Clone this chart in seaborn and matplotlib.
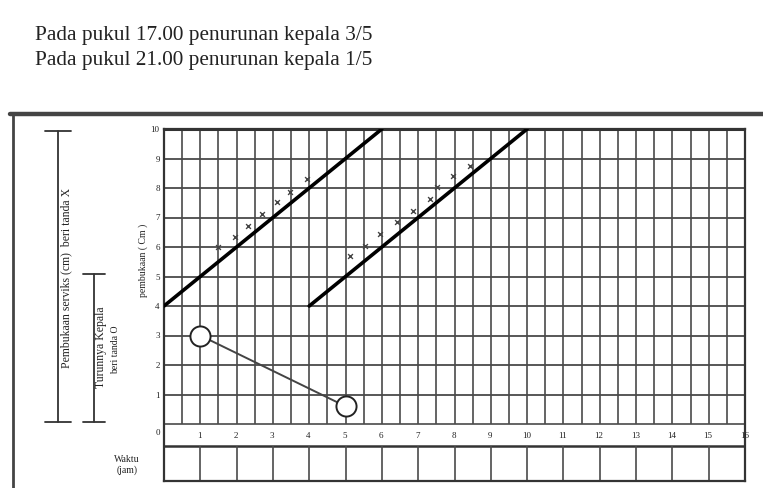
import matplotlib
matplotlib.use("Agg")
import matplotlib.pyplot as plt
from matplotlib.lines import Line2D
import numpy as np
import pandas as pd
import seaborn as sns

# ---- data ----
title_lines = ["Pada pukul 17.00 penurunan kepala 3/5",
               "Pada pukul 21.00 penurunan kepala 1/5"]
alert_hours = [0, 6]
alert_cm = [4, 10]
action_hours = [4, 10]
action_cm = [4, 10]
dil1_hours = [1.50, 1.96, 2.32, 2.69, 3.10, 3.47, 3.93]
dil1_cm = [5.99, 6.33, 6.72, 7.12, 7.52, 7.85, 8.31]
dil2_hours = [5.12, 5.54, 5.95, 6.41, 6.87, 7.33, 7.51, 7.97, 8.43]
dil2_cm = [5.71, 6.04, 6.44, 6.84, 7.23, 7.63, 8.02, 8.42, 8.76]
descent_hours = [1, 5]
descent_val = [3, 0.6]
y_labels = ["0", "1", "2", "3", "4", "5", "6", "7", "8", "9", "10"]
hour_labels = ["1", "2", "3", "4", "5", "6", "7", "8", "9", "10",
               "11", "12", "13", "14", "15", "16"]

sns.set_theme(style="white")
plt.rcParams['font.family'] = ['Liberation Serif', 'DejaVu Serif']

W, H = 763, 489
fig = plt.figure(figsize=(W / 100, H / 100), dpi=100)
fig.patch.set_facecolor("white")

def fx(px):
    return px / W

def fy(py):
    return 1 - py / H

# axes covering grid + bottom time rows
left, right, top, bottom = 164, 745, 130, 482
ax = fig.add_axes([fx(left), fy(bottom), fx(right - left), (bottom - top) / H])
ybot = -(bottom - 425) / 29.5
ax.set_xlim(0, 16)
ax.set_ylim(ybot, 10)
ax.set_xticks([])
ax.set_yticks([])
for s in ax.spines.values():
    s.set_color("#333333")
    s.set_linewidth(1.6)
    s.set_visible(True)

gcol = "#4a4a4a"
# grid: half-hour verticals, 1 cm horizontals
ax.vlines(np.arange(0.5, 16, 0.5), 0, 10, color=gcol, lw=1.2, zorder=1)
ax.hlines(np.arange(1, 10), 0, 16, color=gcol, lw=1.3, zorder=1)
ax.hlines([10], 0, 16, color="#333333", lw=2.2, zorder=1)
ax.hlines([0], 0, 16, color=gcol, lw=1.2, zorder=1)
strip_low = -0.75
ax.hlines([strip_low], 0, 16, color="#333333", lw=1.8, zorder=1)
ax.vlines(np.arange(1, 16), ybot, strip_low, color=gcol, lw=1.2, zorder=1)

# alert / action lines
df_lines = pd.DataFrame({
    "jam": alert_hours + action_hours,
    "cm": alert_cm + action_cm,
    "garis": ["waspada"] * 2 + ["bertindak"] * 2,
})
sns.lineplot(data=df_lines, x="jam", y="cm", units="garis", estimator=None,
             color="black", lw=2.6, ax=ax, legend=False, zorder=3)

# dilation marks (x)
df_dil = pd.DataFrame({"jam": dil1_hours + dil2_hours, "cm": dil1_cm + dil2_cm})
sns.scatterplot(data=df_dil, x="jam", y="cm", marker="x", s=12, color="#444444",
                linewidth=1.0, ax=ax, legend=False, zorder=4)

# head descent (O)
df_des = pd.DataFrame({"jam": descent_hours, "turun": descent_val})
sns.lineplot(data=df_des, x="jam", y="turun", color="#444444", lw=1.4, ax=ax,
             legend=False, zorder=3)
sns.scatterplot(data=df_des, x="jam", y="turun", marker="o", s=210,
                facecolor="white", edgecolor="#222222", linewidth=1.4, ax=ax,
                legend=False, zorder=5)
ax.set_xlabel("")
ax.set_ylabel("")

# y labels (cm)
for i, lab in enumerate(y_labels):
    yy = i if i > 0 else -0.27
    ax.text(-0.12, yy, lab, ha="right", va="center", fontsize=6.5, color="#222222")
# hour labels
for i, lab in enumerate(hour_labels):
    ax.text(i + 0.98, -0.37, lab, ha="center", va="center", fontsize=6.5, color="#222222")

# titles
fig.text(fx(35), fy(40), title_lines[0], fontsize=15.3, color="#222222", va="baseline")
fig.text(fx(35), fy(65), title_lines[1], fontsize=15.3, color="#222222", va="baseline")

# outer frame lines
fig.add_artist(Line2D([fx(10), fx(763)], [fy(115), fy(115)], color="#444444", lw=3.2))
fig.add_artist(Line2D([fx(13), fx(13)], [fy(115), fy(489)], color="#444444", lw=2.0))

# brackets
def bracket(x, y0, y1, cx0, cx1):
    fig.add_artist(Line2D([fx(x), fx(x)], [fy(y0), fy(y1)], color="#333333", lw=1.3))
    fig.add_artist(Line2D([fx(cx0), fx(cx1)], [fy(y0), fy(y0)], color="#333333", lw=1.3))
    fig.add_artist(Line2D([fx(cx0), fx(cx1)], [fy(y1), fy(y1)], color="#333333", lw=1.3))

bracket(58, 132, 423, 45, 71)
bracket(94, 275, 423, 83, 105)

fig.text(fx(66), fy(278), "Pembukaan serviks (cm)  beri tanda X", rotation=90,
         ha="center", va="center", fontsize=8.5, color="#222222")
fig.text(fx(101), fy(347), "Turunnya Kepala", rotation=90,
         ha="center", va="center", fontsize=8.5, color="#222222")
fig.text(fx(116), fy(350), "beri tanda O", rotation=90,
         ha="center", va="center", fontsize=7, color="#222222")
fig.text(fx(143), fy(260), "pembukaan ( Cm )", rotation=90,
         ha="center", va="center", fontsize=7, color="#222222")
fig.text(fx(127), fy(465), "Waktu\n(jam)", ha="center", va="center",
         fontsize=7, color="#222222", linespacing=1.1)

fig.savefig("out.png", dpi=100, facecolor="white")
